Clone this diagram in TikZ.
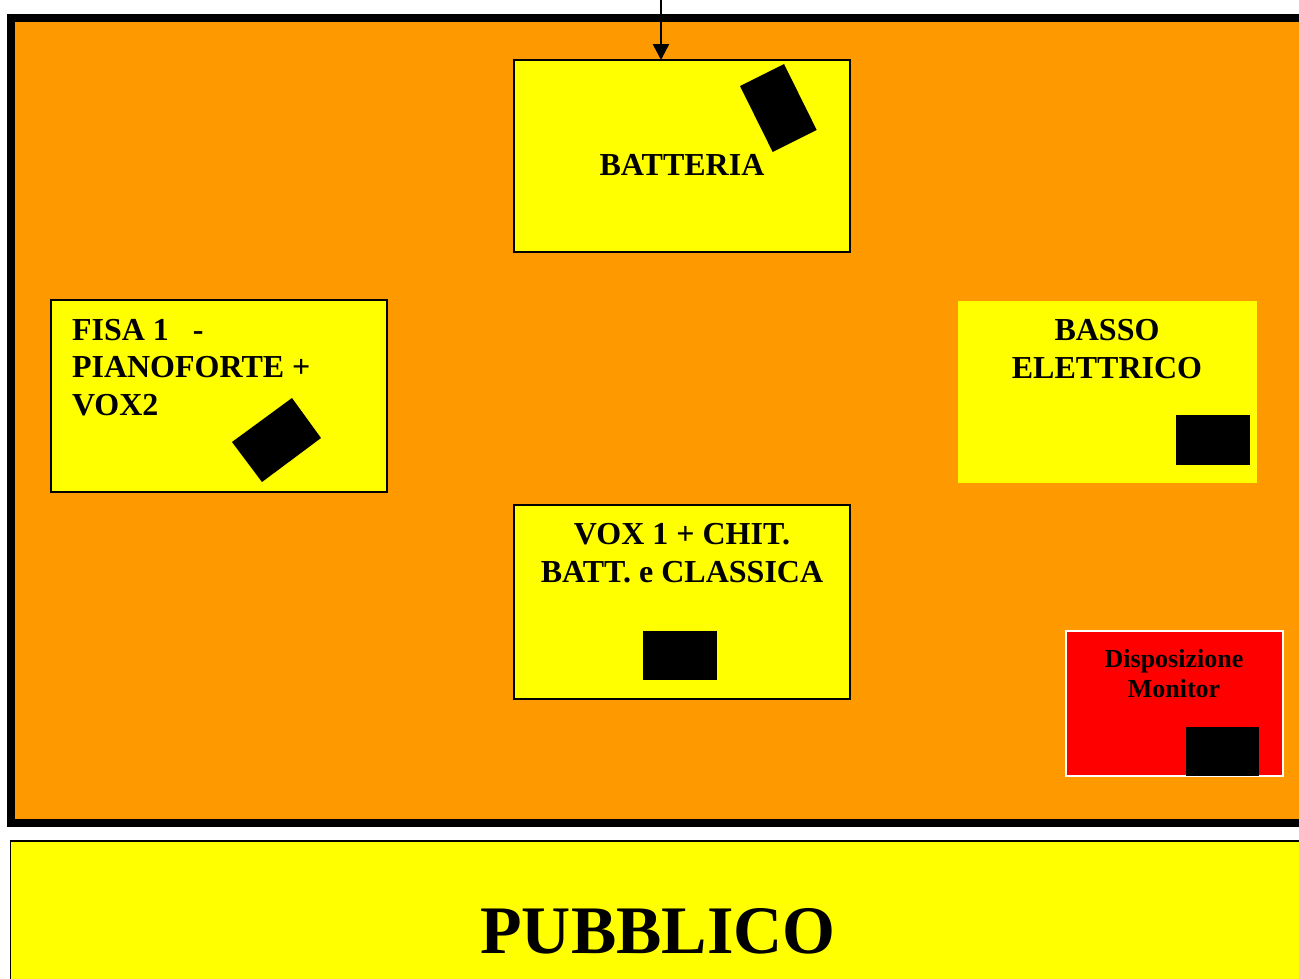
\documentclass[tikz,border=0pt]{standalone}
\usepackage{fontspec}
\setmainfont{Liberation Serif}
\usetikzlibrary{arrows.meta}
\definecolor{stageorange}{RGB}{255,153,0}
\definecolor{boxyellow}{RGB}{255,255,0}
\definecolor{monred}{RGB}{255,0,0}
\tikzset{
  areabox/.style={draw=black, line width=1.5pt, fill=boxyellow, inner sep=0pt, outer sep=0pt},
  plainbox/.style={fill=boxyellow, inner sep=0pt, outer sep=0pt},
  lbl/.style={inner sep=0pt, outer sep=0pt, font=\fontsize{32}{37.5}\selectfont\bfseries},
  speaker/.style={fill=black},
}
\begin{document}
\begin{tikzpicture}[x=1pt,y=-1pt]
\useasboundingbox (0,0) rectangle (1299,978);
\fill[white] (0,0) rectangle (1299,978);
% stage
\draw[line width=8pt, fill=stageorange] (11,17.5) rectangle (1330,823);
% audience
\draw[line width=1.5pt, fill=boxyellow] (10.5,841) rectangle (1330,1000);
\node[inner sep=0pt, font=\fontsize{68}{80}\selectfont\bfseries, anchor=base] (pub) at (658,953) {PUBBLICO};
% batteria
\node[areabox, minimum width=336pt, minimum height=192pt] (bat) at (682,156) {};
\node[lbl, anchor=base] (battxt) at (682,175) {BATTERIA};
\fill[speaker] (740,86) -- (784,64) -- (816.7,130) -- (772.7,152) -- cycle;
\coordinate (feed) at (661,-5);
\draw[line width=2.6pt, -{Triangle[length=16pt,width=16pt]}] (feed) -- (feed |- bat.north);
% fisa
\node[areabox, minimum width=336pt, minimum height=192pt] (fisa) at (219,396) {};
\node[lbl, anchor=base west, align=left] (fisatxt) at (72,415) {FISA 1\ \ \ -\\PIANOFORTE +\\VOX2};
\fill[speaker] (232,442) -- (292,398) -- (321,438) -- (262,482) -- cycle;
% basso
\node[plainbox, minimum width=299pt, minimum height=182pt] (basso) at (1107.5,392) {};
\node[lbl, anchor=base, align=center] (bassotxt) at (1107,378) {BASSO\\ELETTRICO};
\fill[speaker] (1175.7,415.3) rectangle (1249.7,465);
% vox
\node[areabox, minimum width=336pt, minimum height=194pt] (vox) at (682,602) {};
\node[lbl, anchor=base, align=center] (voxtxt) at (682,582) {VOX 1 + CHIT.\\BATT. e CLASSICA};
\fill[speaker] (643,631) rectangle (717,680);
% monitor
\node[draw=white, line width=1.5pt, fill=monred, minimum width=217pt, minimum height=145pt, inner sep=0pt] (mon) at (1174.5,703.5) {};
\node[inner sep=0pt, font=\fontsize{26}{30.5}\selectfont\bfseries, anchor=base, align=center] (montxt) at (1174,697.5) {Disposizione\\Monitor};
\fill[speaker] (1185.7,726.7) rectangle (1259.3,776.3);
\end{tikzpicture}
\end{document}
